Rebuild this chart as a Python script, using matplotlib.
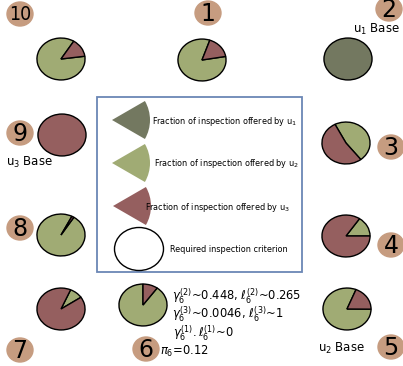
import matplotlib
matplotlib.use("Agg")
import matplotlib.pyplot as plt
from matplotlib.patches import Wedge, Ellipse, Rectangle

W, H = 403, 366

# inspection shares per node (u1, u2, u3)
nodes = [1, 2, 3, 4, 5, 6, 7, 8, 9, 10]
share_u1 = [0.0, 1.0, 0.0, 0.0, 0.0, 0.0, 0.0, 0.0, 0.0, 0.0]
share_u2 = [0.83, 0.0, 0.47, 0.155, 0.81, 0.90, 0.09, 0.985, 0.0, 0.86]
share_u3 = [0.17, 0.0, 0.53, 0.845, 0.19, 0.10, 0.91, 0.015, 1.0, 0.14]

base_labels = {2: r"u$_1$ Base", 9: r"u$_3$ Base", 5: r"u$_2$ Base"}
legend_labels = [
    r"Fraction of inspection offered by u$_1$",
    r"Fraction of inspection offered by u$_2$",
    r"Fraction of inspection offered by u$_3$",
    "Required inspection criterion",
]
node6_notes = [
    r"$\gamma_6^{(2)}$~0.448, $\ell_6^{(2)}$~0.265",
    r"$\gamma_6^{(3)}$~0.0046, $\ell_6^{(3)}$~1",
    r"$\gamma_6^{(1)}.\ell_6^{(1)}$~0",
    r"$\pi_6$=0.12",
]

colors = ["#737860", "#a0ab74", "#955f5f"]
badge_color = "#c69c80"
narrow = dict(family="DejaVu Sans", fontstretch="condensed")

# layout in pixels: pie centres, pie start angles, badge centres
pie_xy = {1: (202, 60), 2: (348, 59), 3: (346, 143), 4: (346, 236), 5: (347, 309),
          6: (143, 305), 7: (61, 309), 8: (61, 235), 9: (62, 135), 10: (61, 59)}
start = {1: 71, 2: 90, 3: -52, 4: 0, 5: 68, 6: 90, 7: 34, 8: 63, 9: 90, 10: 58}
badge_xy = {1: (208, 13), 2: (389, 9), 3: (391, 147), 4: (391, 245), 5: (391, 347),
            6: (146, 349), 7: (20, 350), 8: (20, 228), 9: (20, 133), 10: (20, 14)}
pie_w, pie_h = 48, 42

fig = plt.figure(figsize=(W / 100, H / 100), dpi=100)
ax = fig.add_axes([0, 0, 1, 1])
ax.set_xlim(0, W)
ax.set_ylim(H, 0)
ax.axis("off")

for i, n in enumerate(nodes):
    vals = [share_u1[i], share_u2[i], share_u3[i]]
    keep = [(v, c) for v, c in zip(vals, colors) if v > 0]
    cx, cy = pie_xy[n]
    pax = fig.add_axes([(cx - pie_w / 2 - 1) / W, 1 - (cy + pie_h / 2 + 1) / H,
                        (pie_w + 2) / W, (pie_h + 2) / H])
    pax.pie([k[0] for k in keep], colors=[k[1] for k in keep], startangle=start[n],
            counterclock=True, normalize=True,
            wedgeprops=dict(edgecolor="black", linewidth=1.0))
    pax.set_aspect("auto")
    pax.set_xlim(-1.04, 1.04)
    pax.set_ylim(-1.05, 1.05)
    pax.axis("off")

    bx, by = badge_xy[n]
    ax.add_patch(Ellipse((bx, by), 26, 24, color=badge_color, zorder=2))
    if n == 10:
        ax.text(bx, by + 1, str(n), ha="center", va="center", fontsize=14,
                zorder=3, **narrow)
    else:
        ax.text(bx, by + 1, str(n), ha="center", va="center", fontsize=17, zorder=3)

ax.text(376, 29, base_labels[2], ha="center", va="center", fontsize=8.5)
ax.text(29, 162, base_labels[9], ha="center", va="center", fontsize=8.5)
ax.text(341, 348, base_labels[5], ha="center", va="center", fontsize=8.5)

# legend box
ax.add_patch(Rectangle((97, 97), 205, 175, fill=False, edgecolor="#6b87b5", lw=1.3))
leg_apex = [(112, 120), (112, 163), (113, 206)]
leg_text_x = [152, 154, 145]
for (x, y), tx, c, lab in zip(leg_apex, leg_text_x, colors, legend_labels[:3]):
    ax.add_patch(Wedge((x, y), 38, -30, 30, color=c, lw=0))
    ax.text(tx, y + 1, lab, ha="left", va="center", fontsize=6.5, **narrow)
ax.add_patch(Ellipse((139, 249), 49, 43, facecolor="white", edgecolor="black", lw=1.0))
ax.text(170, 249, legend_labels[3], ha="left", va="center", fontsize=6.5, **narrow)

# node 6 notes
note_pos = [(172, 296), (172, 314), (173, 333), (160, 351)]
for (x, y), t in zip(note_pos, node6_notes):
    ax.text(x, y, t, ha="left", va="center", fontsize=8.3)

fig.savefig("out.png", dpi=100)
